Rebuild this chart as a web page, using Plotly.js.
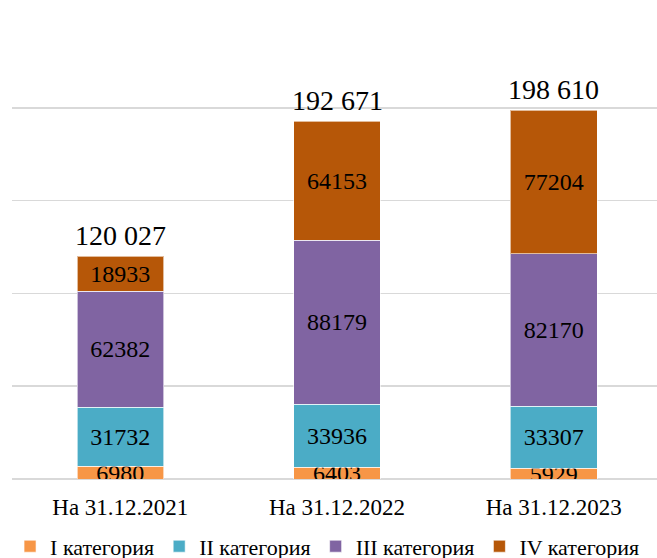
<!DOCTYPE html>
<html>
<head>
<meta charset="utf-8">
<script src="https://cdn.plot.ly/plotly-3.0.1.min.js"></script>
<style>
html, body { margin:0; padding:0; overflow:hidden; background:#fff; width:657px; height:558px; }
#chart { width:670px; height:558px; }
</style>
</head>
<body>
<div id="chart"></div>
<script>
const categories = ["На 31.12.2021", "На 31.12.2022", "На 31.12.2023"];
const seriesNames = ["I категория", "II категория", "III категория", "IV категория"];
const cat1 = [6980, 6403, 5929];
const cat2 = [31732, 33936, 33307];
const cat3 = [62382, 88179, 82170];
const cat4 = [18933, 64153, 77204];
const colors = ["#f79646", "#4bacc6", "#8064a2", "#b65708"];

const FONT = "'Liberation Serif', 'Times New Roman', serif";
const seriesValues = [cat1, cat2, cat3, cat4];

const traces = seriesValues.map((vals, i) => ({
  type: "bar",
  name: seriesNames[i],
  x: categories,
  y: vals,
  marker: { color: colors[i], line: { color: "rgba(255,255,255,0.6)", width: 1 } },
  text: vals.map(v => String(v)),
  texttemplate: "%{text}",
  textposition: "inside",
  insidetextanchor: "middle",
  constraintext: "none",
  textangle: 0,
  insidetextfont: { family: FONT, size: 24, color: "#000" },
  hoverinfo: "x+y+name"
}));

const totals = categories.map((c, j) => seriesValues.reduce((s, arr) => s + arr[j], 0));
function fmt(n) { return String(n).replace(/\B(?=(\d{3})+(?!\d))/g, " "); }

const annotations = categories.map((c, j) => ({
  x: c, y: totals[j], xref: "x", yref: "y",
  text: fmt(totals[j]), showarrow: false,
  yanchor: "bottom", yshift: 3,
  font: { family: FONT, size: 28, color: "#000" }
}));

const layout = {
  width: 670, height: 558,
  margin: { l: 12, r: 8, t: 15, b: 79, autoexpand: false },
  paper_bgcolor: "#fff", plot_bgcolor: "#fff",
  barmode: "stack",
  bargap: 0.6,
  font: { family: FONT, size: 23, color: "#000" },
  xaxis: {
    type: "category",
    showgrid: false, zeroline: false,
    showline: false,
    ticks: "",
    ticklabelstandoff: 12,
    tickfont: { family: FONT, size: 23, color: "#000" },
    fixedrange: true,
    automargin: false
  },
  yaxis: {
    range: [0, 250000],
    dtick: 50000,
    showgrid: true, gridcolor: "#d9d9d9", gridwidth: 1.5,
    zeroline: true, zerolinecolor: "#d9d9d9", zerolinewidth: 1.5,
    showticklabels: false,
    ticks: "",
    fixedrange: true,
    automargin: false
  },
  showlegend: true,
  legend: {
    orientation: "h",
    x: -0.003, xanchor: "left",
    y: -0.1, yanchor: "top",
    font: { family: FONT, size: 22, color: "#000" },
    traceorder: "normal",
    itemclick: false, itemdoubleclick: false
  },
  annotations: annotations
};

Plotly.newPlot("chart", traces, layout, { displayModeBar: false, staticPlot: true });
</script>
</body>
</html>
